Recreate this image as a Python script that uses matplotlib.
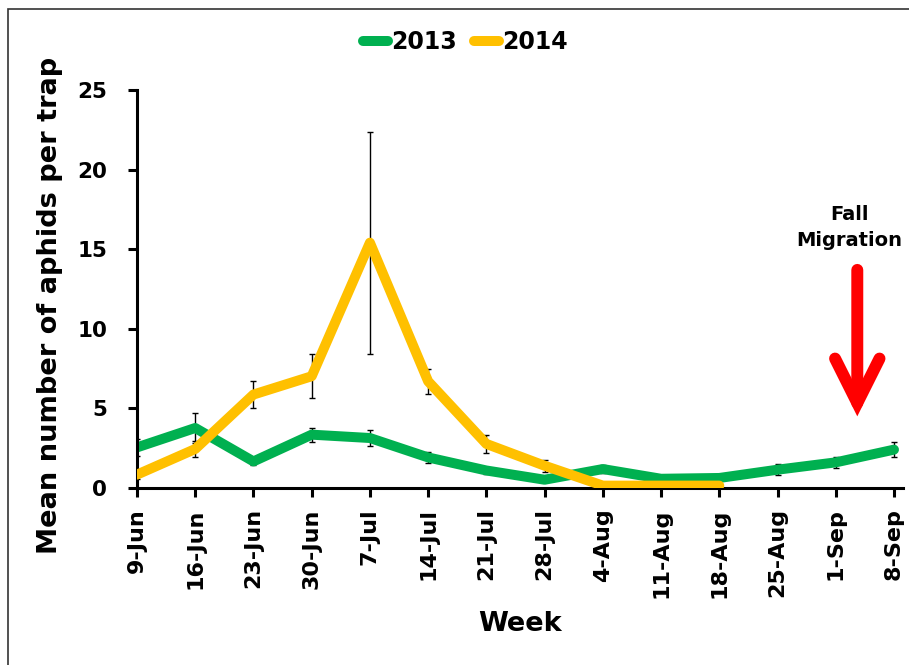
import matplotlib
matplotlib.use("Agg")
import matplotlib.pyplot as plt
from matplotlib.patches import Rectangle

# Weekly sampling dates
weeks = ["9-Jun", "16-Jun", "23-Jun", "30-Jun", "7-Jul", "14-Jul", "21-Jul",
         "28-Jul", "4-Aug", "11-Aug", "18-Aug", "25-Aug", "1-Sep", "8-Sep"]

# Mean aphids per trap and standard errors
mean_2013 = [2.55, 3.77, 1.67, 3.35, 3.14, 1.92, 1.10, 0.52, 1.19, 0.58, 0.63, 1.15, 1.61, 2.41]
se_2013 = [0.55, 0.95, 0.25, 0.45, 0.50, 0.33, 0.25, 0.15, 0.25, 0.12, 0.12, 0.35, 0.33, 0.47]

mean_2014 = [0.84, 2.45, 5.87, 7.02, 15.41, 6.70, 2.77, 1.40, 0.15, 0.15, 0.15]
se_2014 = [0.25, 0.50, 0.85, 1.38, 6.97, 0.77, 0.58, 0.37, 0.05, 0.05, 0.05]

GREEN = "#00B050"
GOLD = "#FFC000"

plt.rcParams["font.family"] = ["DejaVu Sans"]
plt.rcParams["font.weight"] = "bold"

fig = plt.figure(figsize=(9.09, 6.65), dpi=100)
ax = fig.add_axes([137 / 909, 177 / 665, 766 / 909, 398 / 665])

x13 = list(range(len(mean_2013)))
x14 = list(range(len(mean_2014)))

ax.errorbar(x13, mean_2013, yerr=se_2013, fmt="none", ecolor="black",
            elinewidth=1.0, capsize=2.5, capthick=1.0, zorder=1)
ax.errorbar(x14, mean_2014, yerr=se_2014, fmt="none", ecolor="black",
            elinewidth=1.0, capsize=2.5, capthick=1.0, zorder=1)

ax.plot(x13, mean_2013, color=GREEN, lw=7.2, solid_capstyle="round",
        solid_joinstyle="round", label="2013", zorder=2)
ax.plot(x14, mean_2014, color=GOLD, lw=7.2, solid_capstyle="round",
        solid_joinstyle="round", label="2014", zorder=3)

ax.set_xlim(0, 13.155)
ax.set_ylim(0, 25)
ax.set_yticks([0, 5, 10, 15, 20, 25])
ax.set_xticks(x13)
ax.set_xticklabels(weeks, rotation=90, fontsize=16, fontweight="bold")
ax.tick_params(axis="y", labelsize=15.5, width=2.2, length=6.5, pad=15,
               direction="out")
ax.tick_params(axis="x", width=2.2, length=6.5, pad=8, direction="out")
for lbl in ax.get_yticklabels():
    lbl.set_fontweight("bold")

for side in ("top", "right"):
    ax.spines[side].set_visible(False)
for side in ("left", "bottom"):
    ax.spines[side].set_linewidth(2.2)
ax.spines["left"].set_bounds(0, 25)

ax.set_ylabel("Mean number of aphids per trap", fontsize=19.6, fontweight="bold")
ax.yaxis.set_label_coords(-0.0966, 0.46)
ax.set_xlabel("Week", fontsize=19.5, fontweight="bold", labelpad=10)

# Migration marker
ax.annotate("", xy=(12.37, 4.5), xytext=(12.37, 13.7),
            arrowprops=dict(arrowstyle="->,head_length=1.6,head_width=0.8",
                            color="red", lw=8.6, mutation_scale=20,
                            shrinkA=0, shrinkB=0, capstyle="round",
                            joinstyle="miter"),
            annotation_clip=False)
ax.text(12.24, 16.35, "Fall\nMigration", ha="center", va="center",
        fontsize=14, fontweight="bold", linespacing=1.5, clip_on=False)

leg = fig.legend(loc="center", bbox_to_anchor=(0.512, 0.937), ncol=2,
                 frameon=False, fontsize=17, handlelength=1.05,
                 handletextpad=0.15, columnspacing=0.7)
for t in leg.get_texts():
    t.set_fontweight("bold")

# Outer border
fig.patches.append(Rectangle((8 / 909, -0.1), 1.2, 0.1 + 1 - 9 / 665,
                             transform=fig.transFigure, fill=False,
                             edgecolor="#333333", lw=1.2))

fig.savefig("out.png", dpi=100)
